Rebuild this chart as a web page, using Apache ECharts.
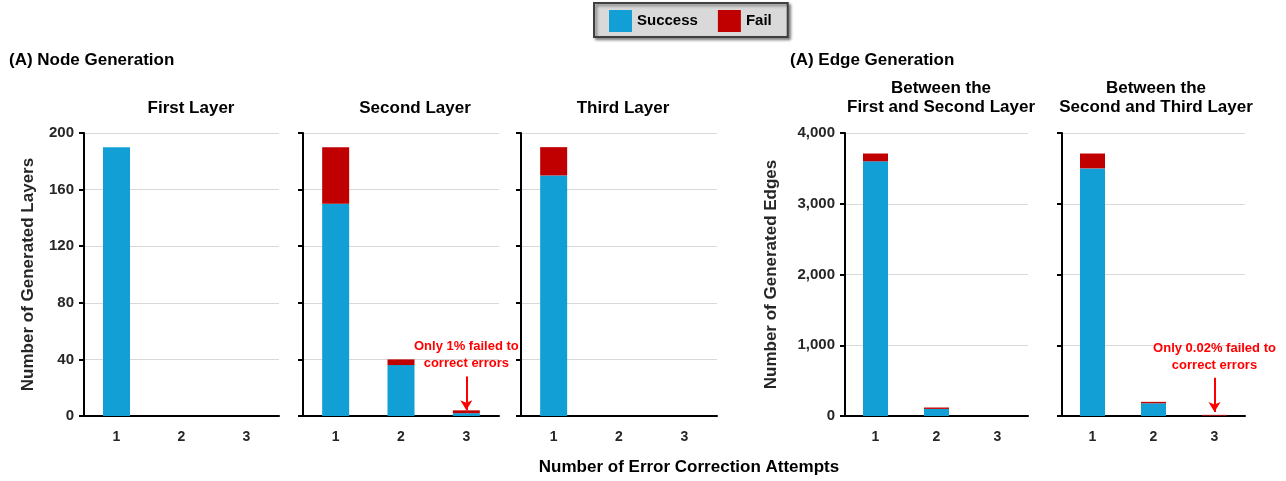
<!DOCTYPE html>
<html>
<head>
<meta charset="utf-8">
<script src="https://cdn.jsdelivr.net/npm/echarts@6/dist/echarts.min.js"></script>
<style>
  html, body { margin: 0; padding: 0; background: #fff; }
  #chart { width: 1286px; height: 481px; }
</style>
</head>
<body>
<div id="chart"></div>
<script>
// categories
const attempts = ["1", "2", "3"];

// node generation (number of layers)
const firstLayerSuccess = [190, 0, 0];
const firstLayerFail = [0, 0, 0];
const secondLayerSuccess = [150, 36, 2];
const secondLayerFail = [40, 4, 2];
const thirdLayerSuccess = [170, 0, 0];
const thirdLayerFail = [20, 0, 0];

// edge generation (number of edges)
const edges12Success = [3600, 100, 0];
const edges12Fail = [110, 20, 0];
const edges23Success = [3500, 180, 4];
const edges23Fail = [210, 20, 12];

// axis ticks
const nodeTicks = [0, 40, 80, 120, 160, 200];
const edgeTicks = [0, 1000, 2000, 3000, 4000];

const BLUE = "#119fd6";
const RED = "#c00000";
const FONT = "Liberation Sans";

const panels = [
  { left: 84, width: 195, ticks: nodeTicks, labels: true, barWidth: 27, s: firstLayerSuccess, f: firstLayerFail },
  { left: 303, width: 196, ticks: nodeTicks, labels: false, barWidth: 27, s: secondLayerSuccess, f: secondLayerFail },
  { left: 521, width: 196, ticks: nodeTicks, labels: false, barWidth: 27, s: thirdLayerSuccess, f: thirdLayerFail },
  { left: 845, width: 183, ticks: edgeTicks, labels: true, barWidth: 25, s: edges12Success, f: edges12Fail },
  { left: 1062, width: 183, ticks: edgeTicks, labels: false, barWidth: 25, s: edges23Success, f: edges23Fail }
];

const annotations = {
  1: { text: "Only 1% failed to\ncorrect errors", from: 28, to: 4 },
  4: { text: "Only 0.02% failed to\ncorrect errors", from: 540, to: 55 }
};

const grid = [], xAxis = [], yAxis = [], series = [];
panels.forEach((p, i) => {
  grid.push({ left: p.left, width: p.width, top: 133, height: 283 });
  xAxis.push({
    type: "category",
    gridIndex: i,
    data: attempts,
    axisLine: { lineStyle: { color: "#000", width: 2 } },
    axisTick: { alignWithLabel: true, length: 5, lineStyle: { color: "#000", width: 2 } },
    axisLabel: { color: "#262626", fontFamily: FONT, fontWeight: "bold", fontSize: 14, margin: 14 }
  });
  const max = p.ticks[p.ticks.length - 1];
  yAxis.push({
    type: "value",
    gridIndex: i,
    min: 0,
    max: max,
    interval: p.ticks[1] - p.ticks[0],
    name: i === 0 ? "Number of Generated Layers" : (i === 3 ? "Number of Generated Edges" : ""),
    nameLocation: "middle",
    nameGap: i === 0 ? 47 : 65,
    nameTextStyle: { color: "#262626", fontFamily: FONT, fontWeight: "bold", fontSize: 17 },
    axisLine: { show: true, lineStyle: { color: "#000", width: 2 } },
    axisTick: { show: true, length: 5, lineStyle: { color: "#000", width: 2 } },
    splitLine: { lineStyle: { color: "#d9d9d9", width: 1 } },
    axisLabel: {
      show: p.labels,
      color: "#262626",
      fontFamily: FONT,
      fontWeight: "bold",
      fontSize: 15,
      margin: 10,
      formatter: v => v.toLocaleString("en-US")
    }
  });
  series.push({
    name: "Success",
    type: "bar",
    stack: "s" + i,
    xAxisIndex: i,
    yAxisIndex: i,
    barWidth: p.barWidth,
    itemStyle: { color: BLUE },
    data: p.s
  });
  const fail = {
    name: "Fail",
    type: "bar",
    stack: "s" + i,
    xAxisIndex: i,
    yAxisIndex: i,
    barWidth: p.barWidth,
    itemStyle: { color: RED },
    data: p.f
  };
  const a = annotations[i];
  if (a) {
    fail.markLine = {
      silent: true,
      symbol: ["none", "arrow"],
      symbolSize: [9, 10],
      lineStyle: { color: "#ff0000", width: 2, type: "solid" },
      label: {
        show: true,
        position: "start",
        distance: 4,
        formatter: a.text,
        color: "#ff0000",
        fontFamily: FONT,
        fontWeight: "bold",
        fontSize: 13,
        lineHeight: 17,
        align: "center"
      },
      data: [[{ coord: [2, a.from] }, { coord: [2, a.to] }]]
    };
  }
  series.push(fail);
});

const bold = size => "bold " + size + "px '" + FONT + "'";
const txt = (x, y, text, size, align) => ({
  type: "text",
  x: x,
  y: y,
  style: { text: text, font: bold(size), fill: "#000", textAlign: align || "center", textVerticalAlign: "middle", lineHeight: 19 }
});

const chart = echarts.init(document.getElementById("chart"));
chart.setOption({
  animation: false,
  legend: {
    data: ["Success", "Fail"],
    left: 594,
    top: 3,
    padding: [7, 16, 5, 15],
    itemGap: 20,
    itemWidth: 23,
    itemHeight: 22,
    icon: "rect",
    backgroundColor: "#d9d9d9",
    borderColor: "#404040",
    borderWidth: 2,
    borderRadius: 0,
    shadowColor: "rgba(0,0,0,0.45)",
    shadowBlur: 3,
    shadowOffsetX: 2,
    shadowOffsetY: 2,
    textStyle: { color: "#000", fontFamily: FONT, fontWeight: "bold", fontSize: 15 }
  },
  grid: grid,
  xAxis: xAxis,
  yAxis: yAxis,
  series: series,
  graphic: [
    txt(9, 60, "(A) Node Generation", 17, "left"),
    txt(790, 60, "(A) Edge Generation", 17, "left"),
    txt(191, 108, "First Layer", 17),
    txt(415, 108, "Second Layer", 17),
    txt(623, 108, "Third Layer", 17),
    txt(941, 98, "Between the\nFirst and Second Layer", 17),
    txt(1156, 98, "Between the\nSecond and Third Layer", 17),
    txt(689, 467, "Number of Error Correction Attempts", 17)
  ]
});
</script>
</body>
</html>
